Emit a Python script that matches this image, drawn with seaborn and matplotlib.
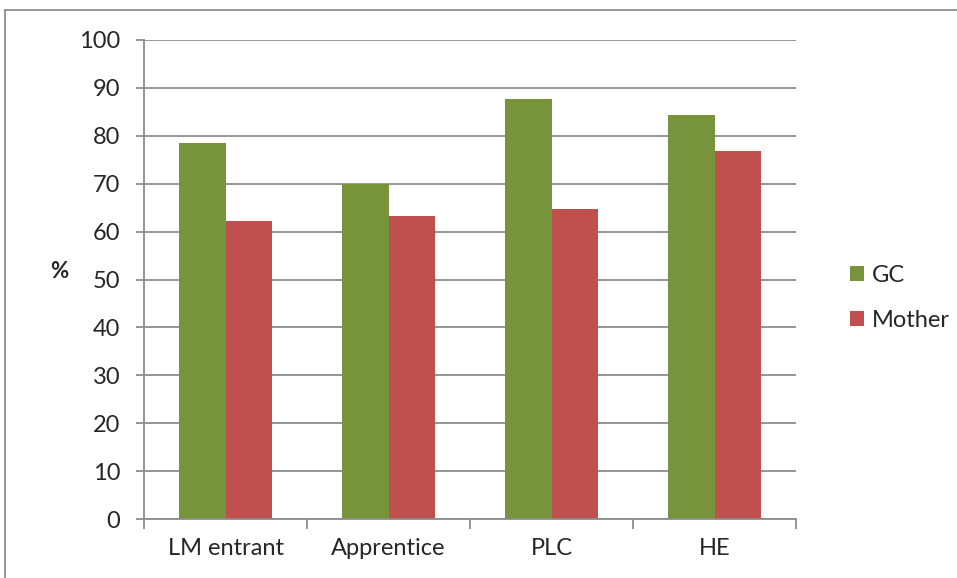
import matplotlib
matplotlib.use("Agg")
import matplotlib.pyplot as plt
import seaborn as sns
import pandas as pd
from matplotlib.patches import Rectangle, Patch

categories = ["LM entrant", "Apprentice", "PLC", "HE"]
gc_values = [78.6, 70.0, 87.6, 84.4]
mother_values = [62.2, 63.2, 64.8, 76.8]
series_names = ["GC", "Mother"]
y_ticks = list(range(0, 101, 10))

df = pd.DataFrame({
    "category": categories * 2,
    "value": gc_values + mother_values,
    "series": [series_names[0]] * 4 + [series_names[1]] * 4,
})

sns.set_style("white")
plt.rcParams["font.family"] = ["Lato", "DejaVu Sans"]

colors = {"GC": "#77933C", "Mother": "#C0504D"}

fig = plt.figure(figsize=(9.57, 5.78), dpi=100)
ax = fig.add_axes([144 / 957, 1 - 519 / 578, (796 - 144) / 957, (519 - 40) / 578])

sns.barplot(data=df, x="category", y="value", hue="series", palette=colors,
            width=0.572, ax=ax, legend=False, saturation=1, edgecolor="none")

ax.set_ylim(0, 100)
ax.set_xlim(-0.5, 3.5)
ax.set_yticks(y_ticks)
ax.set_yticklabels([str(t) for t in y_ticks], fontsize=17)
ax.yaxis.grid(True, color="#8c8c8c", linewidth=1.3)
ax.set_axisbelow(True)
ax.set_xticks([0, 1, 2, 3])
ax.set_xticklabels(categories, fontsize=17)
ax.tick_params(axis="x", length=0, pad=14)
# category separator ticks
ax.set_xticks([-0.5, 0.5, 1.5, 2.5, 3.5], minor=True)
ax.tick_params(axis="x", which="minor", length=7, color="#8c8c8c", width=1.3, direction="out", bottom=True)
ax.tick_params(axis="y", length=6, color="#8c8c8c", width=1.3, direction="out", left=True, pad=11)
for s in ["top", "right"]:
    ax.spines[s].set_visible(False)
for s in ["left", "bottom"]:
    ax.spines[s].set_color("#8c8c8c")
    ax.spines[s].set_linewidth(1.3)
ax.set_xlabel("")
ax.set_ylabel("%", fontsize=16, fontweight="bold", rotation=0, labelpad=0)
ax.yaxis.set_label_coords(-0.13, 0.495)

handles = [Patch(facecolor=colors[n], edgecolor="none", label=n) for n in series_names]
fig.legend(handles=handles, loc="center left", bbox_to_anchor=(838 / 957, 1 - 298 / 578),
           frameon=False, fontsize=17, handlelength=0.6, handleheight=0.6,
           handletextpad=0.35, labelspacing=1.0, borderpad=0)

# chart frame (left and top edges visible)
fig.patches.append(Rectangle((5 / 957, -0.1), 1.2, (1 - 10 / 578) + 0.1,
                             transform=fig.transFigure, fill=False,
                             edgecolor="#8c8c8c", linewidth=1.3))

fig.savefig("out.png", dpi=100)
